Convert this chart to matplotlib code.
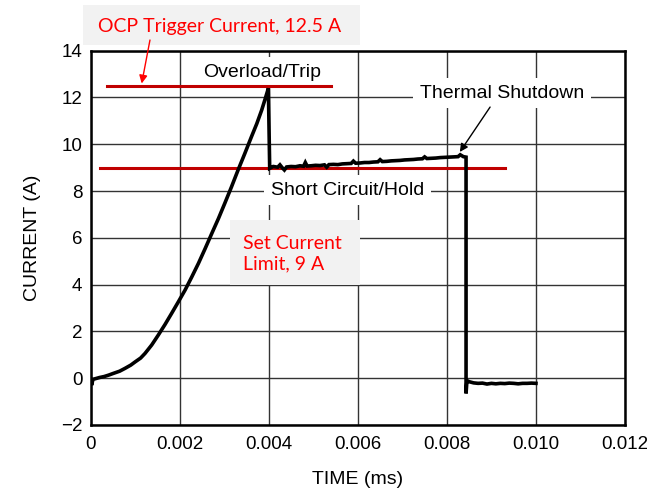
import matplotlib
matplotlib.use("Agg")
import matplotlib.pyplot as plt
from matplotlib.patches import Rectangle, FancyArrowPatch

plt.rcParams['font.family'] = ['Liberation Sans', 'DejaVu Sans']

# current trace
time_s = [0.0, 0.00002, 0.00005, 0.0002, 0.0003, 0.0004, 0.0005, 0.00065, 0.00077, 0.0009,
          0.0010, 0.00112, 0.00122, 0.00137, 0.00152, 0.00167,
          0.00182, 0.00197, 0.00212, 0.00227, 0.00242, 0.00257, 0.00272, 0.00287,
          0.00301, 0.00316, 0.00331, 0.00346, 0.00361, 0.00373, 0.00384, 0.00392,
          0.00399, 0.00402, 0.00405,
          0.00410, 0.00420, 0.00425, 0.00430, 0.00435, 0.00440, 0.00450, 0.00460,
          0.00470, 0.00478, 0.00482, 0.00486, 0.00495, 0.00505, 0.00515, 0.00525,
          0.00530, 0.00535, 0.00545, 0.00555, 0.00565, 0.00575, 0.00585, 0.00590,
          0.00595, 0.00605, 0.00615, 0.00625, 0.00635, 0.00645, 0.00650, 0.00655,
          0.00665, 0.00675, 0.00685, 0.00695, 0.00705, 0.00715, 0.00725, 0.00735,
          0.00745, 0.00750, 0.00755, 0.00765, 0.00775, 0.00785, 0.00795, 0.00805,
          0.00815, 0.00825, 0.00830, 0.00837, 0.00843,
          0.00843, 0.00845, 0.00850, 0.00860, 0.00870, 0.00880, 0.00890, 0.00900,
          0.00910, 0.00920, 0.00930, 0.00940, 0.00950, 0.00960, 0.00970, 0.00980,
          0.00990, 0.01000]
current_a = [-0.05, -0.30, -0.05, 0.03, 0.07, 0.13, 0.20, 0.30, 0.42, 0.56,
             0.70, 0.86, 1.06, 1.42, 1.85, 2.30,
             2.78, 3.27, 3.77, 4.33, 4.91, 5.54, 6.19, 6.83,
             7.47, 8.17, 8.90, 9.60, 10.32, 10.88, 11.46, 11.95,
             12.39, 8.97, 9.00,
             9.05, 9.02, 9.12, 9.00, 8.90, 9.03, 9.05, 9.04,
             9.08, 9.06, 9.22, 9.07, 9.08, 9.10, 9.09, 9.12,
             9.02, 9.13, 9.14, 9.13, 9.16, 9.17, 9.18, 9.28,
             9.19, 9.20, 9.22, 9.22, 9.24, 9.25, 9.34, 9.26,
             9.27, 9.29, 9.30, 9.31, 9.33, 9.34, 9.35, 9.37,
             9.38, 9.46, 9.39, 9.40, 9.41, 9.43, 9.44, 9.45,
             9.46, 9.47, 9.55, 9.47, 9.45,
             -0.65, -0.10, -0.15, -0.20, -0.22, -0.21, -0.25, -0.22,
             -0.24, -0.22, -0.23, -0.21, -0.22, -0.24, -0.22, -0.22,
             -0.21, -0.22]

ocp_level = 12.5
ocp_span = [0.00036, 0.0054]
limit_level = 9.0
limit_span = [0.00021, 0.0093]

x_ticks = [0, 0.002, 0.004, 0.006, 0.008, 0.010, 0.012]
x_labels = ["0", "0.002", "0.004", "0.006", "0.008", "0.010", "0.012"]
y_ticks = [-2, 0, 2, 4, 6, 8, 10, 12, 14]

RED_LINE = '#c00000'
RED_TEXT = '#ff0000'
BOX_GRAY = '#f2f2f2'

fig = plt.figure(figsize=(6.47, 4.94), dpi=100)
ax = fig.add_axes([0.1402, 0.1397, 0.8258, 0.7577])

ax.plot(time_s, current_a, color='black', lw=2.6, zorder=5, solid_joinstyle='miter')

ax.plot(ocp_span, [ocp_level, ocp_level], color=RED_LINE, lw=2.2, zorder=4)
ax.plot(limit_span, [limit_level, limit_level], color=RED_LINE, lw=2.2, zorder=4)

ax.set_xlim(0, 0.012)
ax.set_ylim(-2, 14)
ax.set_xticks(x_ticks)
ax.set_xticklabels(x_labels)
ax.set_yticks(y_ticks)
ax.tick_params(axis='both', length=0, labelsize=13.5)
ax.tick_params(axis='x', pad=8)
ax.tick_params(axis='y', pad=6)
ax.grid(True, color='#333333', lw=1.0)
ax.set_axisbelow(True)
for sp in ax.spines.values():
    sp.set_linewidth(1.8)

ax.set_xlabel("TIME (ms)", fontsize=14, labelpad=13)
ax.set_ylabel("CURRENT (A)", fontsize=14, labelpad=14)

white_box = dict(boxstyle='square,pad=0.35', fc='white', ec='none')
ax.text(0.00384, 13.08, "Overload/Trip", fontsize=14, ha='center', va='center',
        bbox=white_box, zorder=3)
ax.text(0.00923, 12.19, "Thermal Shutdown", fontsize=14, ha='center', va='center',
        bbox=white_box, zorder=3)
ax.text(0.00577, 8.04, "Short Circuit/Hold", fontsize=14, ha='center', va='center',
        bbox=white_box, zorder=3)

ax.annotate("", xy=(0.00829, 9.67), xytext=(0.00897, 11.59),
            arrowprops=dict(arrowstyle='-|>', color='black', lw=1.0, mutation_scale=12,
                            shrinkA=0, shrinkB=0), zorder=6)

# red call-outs in grey boxes
fig.patches.append(Rectangle((0.1283, 0.909), 0.4281, 0.081, transform=fig.transFigure,
                             fc=BOX_GRAY, ec='none', zorder=1))
fig.text(0.340, 0.947, "OCP Trigger Current, 12.5 A", color=RED_TEXT, fontsize=14,
         family=['Lato', 'DejaVu Sans'], ha='center', va='center', zorder=2)
fig.patches.append(FancyArrowPatch((0.2318, 0.919), (0.219, 0.831), transform=fig.transFigure,
                                   arrowstyle='-|>', mutation_scale=12, color=RED_TEXT,
                                   lw=1.0, shrinkA=0, shrinkB=0, zorder=2))

fig.patches.append(Rectangle((0.3555, 0.423), 0.2009, 0.1316, transform=fig.transFigure,
                             fc=BOX_GRAY, ec='none', zorder=1))
fig.text(0.3756, 0.487, "Set Current\nLimit, 9 A", color=RED_TEXT, fontsize=14,
         family=['Lato', 'DejaVu Sans'], ha='left', va='center', linespacing=1.25, zorder=2)

fig.savefig("out.png", dpi=100)
